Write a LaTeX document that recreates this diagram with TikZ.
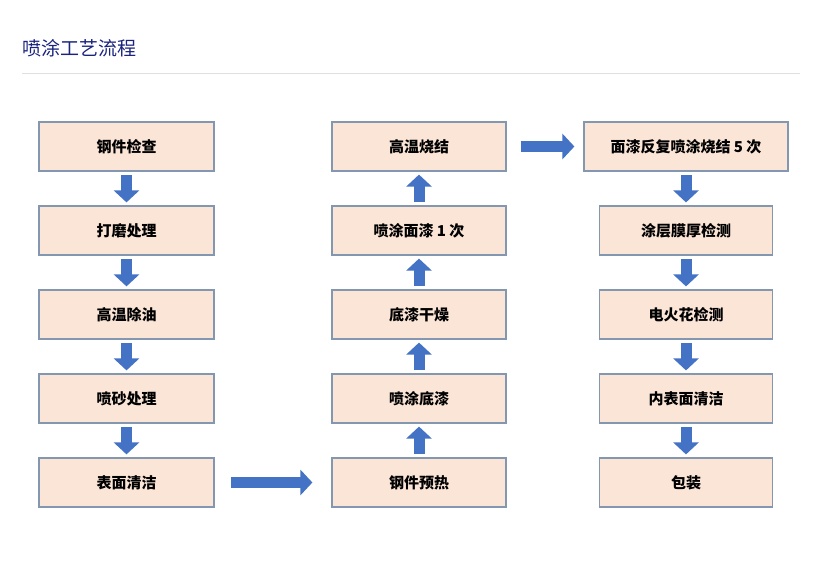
\documentclass[tikz,border=0pt]{standalone}
\usepackage{fontspec}
\setmainfont{Noto Sans CJK SC}
\usetikzlibrary{arrows.meta}
\definecolor{boxfill}{HTML}{FBE5D6}
\definecolor{boxline}{HTML}{8497B0}
\definecolor{arr}{HTML}{4472C4}
\definecolor{titlec}{HTML}{1A237E}
\begin{document}
\begin{tikzpicture}[x=1pt,y=-1pt,
  box/.style={draw=boxline,line width=1.2pt,fill=boxfill,minimum height=49pt,font=\fontsize{15}{17}\selectfont\bfseries,inner sep=0pt},
  b1/.style={box,minimum width=175pt},
  b3/.style={box,minimum width=173pt},
  blk/.style={draw=arr,line width=11pt,-{Triangle[width=25pt,length=12pt]}}]
\useasboundingbox (0,0) rectangle (824,588);
\node[anchor=west,text=titlec,font=\fontsize{19}{21}\selectfont] (title) at (19,48) {喷涂工艺流程};
\coordinate (l1) at (22,73); \coordinate (l2) at (800,73);
\draw[black!12,line width=0.8pt] (l1) -- (l2);
% column 1
\node[b1] (a1) at (126.5,146.5) {钢件检查};
\node[b1] (a2) at (126.5,230.5) {打磨处理};
\node[b1] (a3) at (126.5,314.5) {高温除油};
\node[b1] (a4) at (126.5,398.5) {喷砂处理};
\node[b1] (a5) at (126.5,482.5) {表面清洁};
% column 2
\node[box,minimum width=174pt] (c1) at (419,482.5) {钢件预热};
\node[box,minimum width=174pt] (c2) at (419,398.5) {喷涂底漆};
\node[box,minimum width=174pt] (c3) at (419,314.5) {底漆干燥};
\node[box,minimum width=174pt] (c4) at (419,230.5) {喷涂面漆 1 次};
\node[box,minimum width=174pt] (c5) at (419,146.5) {高温烧结};
% column 3
\node[box,minimum width=204pt] (d1) at (686,146.5) {面漆反复喷涂烧结 5 次};
\node[b3] (d2) at (686,230.5) {涂层膜厚检测};
\node[b3] (d3) at (686,314.5) {电火花检测};
\node[b3] (d4) at (686,398.5) {内表面清洁};
\node[b3] (d5) at (686,482.5) {包装};
\foreach \u/\v in {a1/a2,a2/a3,a3/a4,a4/a5,d1/d2,d2/d3,d3/d4,d4/d5}
  \draw[blk] ([yshift=-3pt]\u.south) -- ([yshift=3pt]\v.north);
\foreach \u/\v in {c1/c2,c2/c3,c3/c4,c4/c5}
  \draw[blk] ([yshift=3pt]\u.north) -- ([yshift=-3pt]\v.south);
\draw[blk] ([xshift=16pt]a5.east) -- ([xshift=-19pt]c1.west);
\draw[blk] ([xshift=14pt]c5.east) -- ([xshift=-9pt]d1.west);
\end{tikzpicture}
\end{document}
